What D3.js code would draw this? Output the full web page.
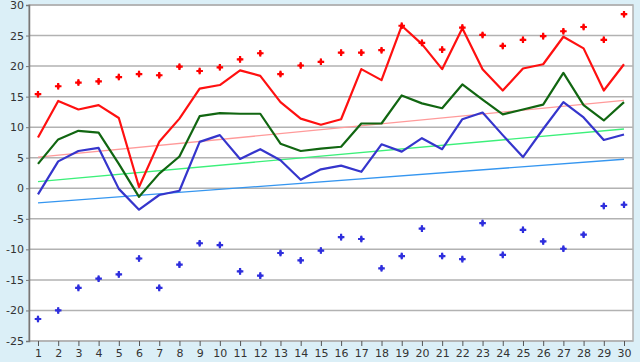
<!DOCTYPE html>
<html>
<head>
<meta charset="utf-8">
<script src="https://cdn.jsdelivr.net/npm/d3@7"></script>
<style>
  body { margin: 0; background: #dbeff7; }
  #wrapper { width: 640px; height: 362px; }
  text { font-family: "DejaVu Sans", Verdana, sans-serif; font-size: 11px; fill: #333; }
</style>
</head>
<body>
<div id="wrapper"></div>
<script>
const days = d3.range(1, 31)
const recordMax = [15.4, 16.7, 17.3, 17.5, 18.2, 18.7, 18.5, 19.9, 19.2, 19.8, 21.1, 22.1, 18.7, 20.1, 20.7, 22.2, 22.2, 22.6, 26.6, 23.8, 22.7, 26.3, 25.1, 23.3, 24.3, 24.9, 25.7, 26.4, 24.3, 28.5]
const tMax = [8.3, 14.3, 12.9, 13.6, 11.5, 0.2, 7.6, 11.4, 16.3, 16.9, 19.3, 18.4, 14.1, 11.4, 10.4, 11.3, 19.5, 17.7, 26.6, 23.6, 19.5, 26.2, 19.5, 16.0, 19.6, 20.3, 24.8, 22.9, 16.0, 20.3]
const tMean = [4.0, 8.0, 9.4, 9.1, 4.0, -1.4, 2.4, 5.2, 11.8, 12.3, 12.2, 12.2, 7.3, 6.1, 6.5, 6.8, 10.6, 10.6, 15.2, 13.9, 13.1, 17.0, 14.5, 12.1, 12.9, 13.7, 18.9, 13.6, 11.1, 14.1]
const tMin = [-1.0, 4.4, 6.1, 6.6, -0.1, -3.5, -1.1, -0.4, 7.6, 8.7, 4.8, 6.4, 4.6, 1.4, 3.1, 3.7, 2.7, 7.2, 6.0, 8.2, 6.4, 11.3, 12.4, 8.7, 5.1, 9.7, 14.1, 11.6, 7.9, 8.8]
const recordMin = [-21.4, -20.0, -16.3, -14.8, -14.1, -11.5, -16.3, -12.5, -9.0, -9.3, -13.6, -14.3, -10.6, -11.8, -10.2, -8.0, -8.3, -13.1, -11.1, -6.6, -11.1, -11.6, -5.7, -10.9, -6.8, -8.7, -9.9, -7.6, -2.9, -2.7]
// trend lines: value at day 1 and day 30
const trendMax = [5.1, 14.4]
const trendMean = [1.1, 9.7]
const trendMin = [-2.4, 4.75]
const yTicks = [-25, -20, -15, -10, -5, 0, 5, 10, 15, 20, 25, 30]

const dimensions = {
    width: 640,
    height: 362,
    margins: { top: 5, right: 7, bottom: 21, left: 29 }
}
dimensions.boundedWidth = dimensions.width - dimensions.margins.left - dimensions.margins.right
dimensions.boundedHeight = dimensions.height - dimensions.margins.top - dimensions.margins.bottom

const wrapper = d3.select('#wrapper')
    .append('svg')
    .attr('width', dimensions.width)
    .attr('height', dimensions.height)

const bounds = wrapper.append('g')
    .attr('transform', `translate(${dimensions.margins.left}, ${dimensions.margins.top})`)

const xScale = d3.scaleLinear()
    .domain([0.555, 30.445])
    .range([0, dimensions.boundedWidth])

const yScale = d3.scaleLinear()
    .domain([-25, 30])
    .range([dimensions.boundedHeight, 0])

bounds.append('rect')
    .attr('width', dimensions.boundedWidth)
    .attr('height', dimensions.boundedHeight)
    .attr('fill', '#fff')
    .attr('stroke', '#b0b0b0')
    .attr('stroke-width', 1.5)

// grid
bounds.append('g').selectAll('line').data(yTicks).join('line')
    .attr('x1', 0)
    .attr('x2', dimensions.boundedWidth)
    .attr('y1', d => yScale(d))
    .attr('y2', d => yScale(d))
    .attr('stroke', '#b2b2b2')
    .attr('stroke-width', 1.5)

// axes
const yAxis = bounds.append('g')
    .call(d3.axisLeft(yScale).tickValues(yTicks).tickSize(3).tickPadding(2).tickFormat(d3.format('d')))
yAxis.select('.domain').attr('stroke', '#777').attr('stroke-width', 1.5)
yAxis.selectAll('.tick line').attr('stroke', '#777')
yAxis.selectAll('text').text(d => String(d))

const xAxis = bounds.append('g')
    .attr('transform', `translate(0, ${dimensions.boundedHeight})`)
    .call(d3.axisBottom(xScale).tickValues(days).tickSize(5).tickPadding(3).tickFormat(d3.format('d')))
xAxis.select('.domain').remove()
xAxis.selectAll('.tick line').attr('stroke', '#555')

// trend lines
const trends = [
    { v: trendMax, color: '#ff9a9a' },
    { v: trendMean, color: '#3cf07a' },
    { v: trendMin, color: '#3596f0' }
]
bounds.append('g').selectAll('line').data(trends).join('line')
    .attr('x1', xScale(1))
    .attr('x2', xScale(30))
    .attr('y1', d => yScale(d.v[0]))
    .attr('y2', d => yScale(d.v[1]))
    .attr('stroke', d => d.color)
    .attr('stroke-width', 1.3)

const lineGenerator = d3.line()
    .x((d, i) => xScale(days[i]))
    .y(d => yScale(d))

const series = [
    { v: tMin, color: '#3535cc' },
    { v: tMean, color: '#116611' },
    { v: tMax, color: '#ff1010' }
]
bounds.append('g').selectAll('path').data(series).join('path')
    .attr('d', d => lineGenerator(d.v))
    .attr('fill', 'none')
    .attr('stroke', d => d.color)
    .attr('stroke-width', 2.2)
    .attr('stroke-linejoin', 'round')

// fat plus markers: cross with a diamond behind it
const cross = d3.symbol().type(d3.symbolCross).size(24)
const diamond = d3.symbol().type(d3.symbolDiamond).size(14)
const dots = [
    { v: recordMax, color: '#ff0000' },
    { v: recordMin, color: '#2e2edd' }
]
dots.forEach(s => {
    const g = bounds.append('g').selectAll('g').data(s.v).join('g')
        .attr('transform', (d, i) => `translate(${xScale(days[i])}, ${yScale(d)})`)
    g.append('path').attr('d', diamond).attr('fill', s.color)
    g.append('path').attr('d', cross).attr('fill', s.color)
})
</script>
</body>
</html>
